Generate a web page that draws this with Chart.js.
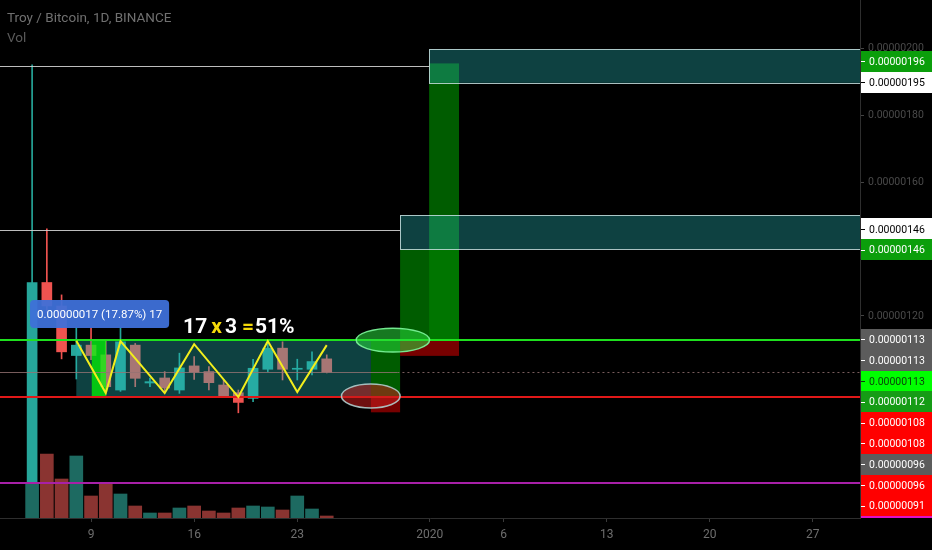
<!DOCTYPE html>
<html lang="en">
<head>
    <meta charset="UTF-8">
    <title>Troy / Bitcoin, 1D, BINANCE</title>
    <script src="https://cdn.jsdelivr.net/npm/chart.js@4.4.0/dist/chart.umd.min.js"></script>
    <style>
        html, body {
            margin: 0;
            padding: 0;
            background: #000;
        }

        .chart-container {
            width: 932px;
            height: 550px;
            position: relative;
        }
    </style>
</head>
<body>
    <div class="chart-container">
        <canvas id="troyChart"></canvas>
    </div>

    <script>
        // prices in satoshi (1e-8 BTC), x = day counted from 1 Dec 2019
        const days    = [5, 6, 7, 8, 9, 10, 11, 12, 13, 14, 15, 16, 17, 18, 19, 20, 21, 22, 23, 24, 25];
        const opens   = [70, 130, 123, 108.2, 111.3, 108.4, 97.9, 111.3, 100, 101.5, 97.9, 105.1, 103.4, 99.4, 97.1, 95.4, 104.1, 110.4, 104.1, 104.1, 107.2];
        const closes  = [130, 123, 109.3, 111.3, 108.2, 98.9, 112.3, 101.4, 100.4, 98.5, 104.5, 103.2, 100.1, 96.1, 94.2, 104.4, 110.4, 104.1, 104.4, 106.4, 103.2];
        const highs   = [195, 146, 126.3, 116.4, 116.4, 112.5, 116.4, 111.8, 101.5, 103.4, 108.9, 107.9, 104.9, 100.9, 97.9, 107.1, 112.6, 112.3, 107.1, 109.3, 108.4];
        const lows    = [70, 121, 107.2, 101.2, 107, 97.9, 97.5, 98.9, 98.9, 97.3, 96.9, 101.1, 97.9, 95.8, 91.1, 94.4, 103.4, 100.9, 100.9, 102.4, 103];
        const volumes = [350, 640, 390, 620, 220, 350, 240, 120, 50, 50, 100, 120, 70, 50, 100, 120, 110, 80, 220, 90, 20];

        const xTickDays   = [9, 16, 23, 32, 37, 44, 51, 58];
        const xTickLabels = ['9', '16', '23', '2020', '6', '13', '20', '27'];

        // yellow zigzag inside the range
        const zigzagDays   = [8, 10, 11, 14, 16, 19, 21, 23, 25];
        const zigzagPrices = [112.6, 97, 112.5, 97, 111.6, 95.8, 112.5, 97.3, 111.3];

        // drawings: [fromDay, toDay, topPrice, bottomPrice]
        const rangeBoxes  = [[8, 28, 112.8, 95.8], [29.98, 61.3, 150.1, 139.9], [31.95, 61.3, 199.7, 189.6]];
        const profitZones = [[29.98, 33.98, 139.9, 112.8], [31.95, 33.98, 195.4, 112.8], [28, 29.98, 112.6, 95.8]];
        const lossZones   = [[29.98, 33.98, 112.8, 108.1], [28, 29.98, 95.8, 91.25]];
        const brightBar   = [9.05, 10.02, 112.6, 95.5];

        // horizontal levels
        const greenLevel   = 112.8;
        const redLevel     = 95.8;
        const priceLevel   = 103.3;
        const magentaLevel = 70.1;
        const whiteRays    = [[194.6, 31.95], [145.7, 29.98]];

        // ellipses: [centerDay, centerPrice, radiusDays, radiusPrice]
        const greenEllipse = [29.49, 112.8, 2.49, 3.58];
        const redEllipse   = [27.99, 96.1, 1.99, 3.58];

        // price labels on the right axis
        const axisLabelValues = [196, 195, 146, 146, 113, 113, 113, 112, 108, 108, 96, 96, 91];
        const axisLabelBg     = ['#0b9e0b', '#ffffff', '#ffffff', '#0b9e0b', '#5c5c5c', '#5c5c5c', '#00ff00', '#159c15', '#ff0000', '#ff0000', '#5c5c5c', '#ff0000', '#ff0000'];
        const axisLabelFg     = ['#fff', '#000', '#000', '#fff', '#fff', '#fff', '#0b3d0b', '#fff', '#fff', '#fff', '#fff', '#fff', '#fff'];

        const UP = '#26a69a';
        const DOWN = '#ef5350';
        const UP_VOL = '#1d6a61';
        const DOWN_VOL = '#8a3431';

        const isUp = days.map((d, i) => closes[i] >= opens[i]);

        function fmt(v) {
            return (v * 1e-8).toFixed(8);
        }

        const drawingsPlugin = {
            id: 'drawings',
            beforeDatasetDraw(chart, args) {
                if (args.index !== 3) return;
                const ctx = chart.ctx;
                const xs = chart.scales.x, ys = chart.scales.y;
                const px = v => xs.getPixelForValue(v);
                const py = v => ys.getPixelForValue(v);
                const area = chart.chartArea;

                ctx.save();
                ctx.beginPath();
                ctx.rect(area.left, area.top, area.right - area.left, area.bottom - area.top);
                ctx.clip();

                // profit / loss zones
                profitZones.forEach(z => {
                    ctx.fillStyle = 'rgba(0, 128, 0, 0.72)';
                    ctx.fillRect(px(z[0]), py(z[2]), px(z[1]) - px(z[0]), py(z[3]) - py(z[2]));
                });
                lossZones.forEach(z => {
                    ctx.fillStyle = 'rgba(165, 0, 0, 0.72)';
                    ctx.fillRect(px(z[0]), py(z[2]), px(z[1]) - px(z[0]), py(z[3]) - py(z[2]));
                });

                // range boxes
                rangeBoxes.forEach((b, i) => {
                    const x0 = px(b[0]), x1 = px(b[1]), y0 = py(b[2]), y1 = py(b[3]);
                    ctx.fillStyle = 'rgba(40, 180, 180, 0.36)';
                    ctx.fillRect(x0, y0, x1 - x0, y1 - y0);
                    if (i > 0) {
                        ctx.strokeStyle = 'rgba(200, 225, 225, 0.85)';
                        ctx.lineWidth = 1;
                        ctx.strokeRect(Math.round(x0) + 0.5, Math.round(y0) + 0.5, x1 - x0, Math.round(y1 - y0));
                    }
                });

                ctx.fillStyle = 'rgba(0, 255, 0, 0.7)';
                ctx.fillRect(px(brightBar[0]), py(brightBar[2]), px(brightBar[1]) - px(brightBar[0]), py(brightBar[3]) - py(brightBar[2]));

                // white rays
                ctx.strokeStyle = 'rgba(210, 210, 210, 0.9)';
                ctx.lineWidth = 1;
                whiteRays.forEach(r => {
                    const y = Math.round(py(r[0])) + 0.5;
                    ctx.beginPath();
                    ctx.moveTo(area.left, y);
                    ctx.lineTo(px(r[1]), y);
                    ctx.stroke();
                });

                // last price line
                const yp = Math.round(py(priceLevel)) + 0.5;
                ctx.strokeStyle = 'rgba(150, 115, 115, 0.8)';
                ctx.beginPath();
                ctx.moveTo(area.left, yp);
                ctx.lineTo(px(29.8), yp);
                ctx.stroke();
                ctx.setLineDash([2, 3]);
                ctx.beginPath();
                ctx.moveTo(px(29.8), yp);
                ctx.lineTo(area.right, yp);
                ctx.stroke();
                ctx.setLineDash([]);

                // levels
                [[greenLevel, '#1ee01e'], [redLevel, '#e01818'], [magentaLevel, '#a820a8']].forEach(l => {
                    ctx.strokeStyle = l[1];
                    ctx.lineWidth = 2;
                    const y = Math.round(py(l[0]));
                    ctx.beginPath();
                    ctx.moveTo(area.left, y);
                    ctx.lineTo(area.right, y);
                    ctx.stroke();
                });

                // ellipses
                [[greenEllipse, 'rgba(40, 220, 60, 0.55)', 'rgba(120, 240, 150, 0.95)'],
                 [redEllipse, 'rgba(200, 30, 30, 0.55)', 'rgba(175, 205, 205, 0.9)']].forEach(e => {
                    const p = e[0];
                    const cx = px(p[0]), cy = py(p[1]);
                    const rx = px(p[0] + p[2]) - cx, ry = py(p[1] - p[3]) - cy;
                    ctx.beginPath();
                    ctx.ellipse(cx, cy, rx, ry, 0, 0, Math.PI * 2);
                    ctx.fillStyle = e[1];
                    ctx.fill();
                    ctx.strokeStyle = e[2];
                    ctx.lineWidth = 1.5;
                    ctx.stroke();
                });

                ctx.restore();
            },
            afterDraw(chart) {
                const ctx = chart.ctx;
                const xs = chart.scales.x, ys = chart.scales.y;
                const px = v => xs.getPixelForValue(v);
                const py = v => ys.getPixelForValue(v);

                ctx.save();
                // header
                ctx.textBaseline = 'middle';
                ctx.textAlign = 'left';
                ctx.font = '13.5px Roboto, sans-serif';
                ctx.fillStyle = '#707070';
                ctx.fillText('Troy / Bitcoin, 1D, BINANCE', 7, 19);
                ctx.fillStyle = '#5a5a5a';
                ctx.fillText('Vol', 7, 39);

                // measure label
                ctx.font = '11.5px Roboto, sans-serif';
                const measText = '0.00000017 (17.87%) 17';
                const mw = ctx.measureText(measText).width + 14;
                const mx = px(9.58), my = py(120.6);
                ctx.fillStyle = 'rgba(62, 112, 216, 0.95)';
                ctx.beginPath();
                ctx.roundRect(mx - mw / 2, my - 14, mw, 28, 4);
                ctx.fill();
                ctx.fillStyle = '#fff';
                ctx.fillText(measText, mx - mw / 2 + 7, my + 1);

                // 17 x 3 = 51%
                ctx.font = 'bold 21px Roboto, sans-serif';
                const parts = [['17', '#fff', 4], ['x', '#f5d90a', 3], ['3', '#fff', 5], ['=', '#f5d90a', 1], ['51%', '#fff', 0]];
                let tx = px(15.25);
                const ty = py(116.5);
                parts.forEach(p => {
                    ctx.fillStyle = p[1];
                    ctx.fillText(p[0], tx, ty);
                    tx += ctx.measureText(p[0]).width + p[2];
                });

                // right axis price labels, stacked like the platform does
                ctx.font = '10.5px Roboto, sans-serif';
                const left = ys.left;
                let prev = -Infinity;
                axisLabelValues.forEach((v, i) => {
                    const y = Math.max(py(v), prev + 20.8);
                    prev = y;
                    ctx.fillStyle = axisLabelBg[i];
                    ctx.fillRect(left + 1, Math.round(y - 10.5), chart.width - left - 1, 21);
                    ctx.strokeStyle = axisLabelFg[i];
                    ctx.lineWidth = 1;
                    ctx.beginPath();
                    ctx.moveTo(left + 1, Math.round(y) + 0.5);
                    ctx.lineTo(left + 5, Math.round(y) + 0.5);
                    ctx.stroke();
                    ctx.fillStyle = axisLabelFg[i];
                    ctx.fillText(fmt(v), left + 9, y + 1);
                    if (i === axisLabelValues.length - 1) {
                        ctx.fillStyle = '#e010c8';
                        ctx.fillRect(left + 1, Math.round(y + 10.5), chart.width - left - 1, 2);
                    }
                });
                ctx.restore();
            }
        };

        const ctx = document.getElementById('troyChart').getContext('2d');

        new Chart(ctx, {
            type: 'bar',
            data: {
                datasets: [
                    {
                        label: 'Vol',
                        yAxisID: 'v',
                        data: days.map((d, i) => ({ x: d, y: volumes[i] })),
                        backgroundColor: isUp.map(u => u ? UP_VOL : DOWN_VOL),
                        barThickness: 13,
                        grouped: false,
                        order: 4
                    },
                    {
                        label: 'wicks',
                        data: days.map((d, i) => ({ x: d, y: [lows[i], highs[i]] })),
                        backgroundColor: isUp.map(u => u ? UP : DOWN),
                        barThickness: 1,
                        grouped: false,
                        order: 3
                    },
                    {
                        label: 'bodies',
                        data: days.map((d, i) => ({ x: d, y: [opens[i], closes[i]] })),
                        backgroundColor: isUp.map(u => u ? UP : DOWN),
                        barThickness: 10,
                        minBarLength: 1,
                        grouped: false,
                        order: 2
                    },
                    {
                        type: 'line',
                        label: 'zigzag',
                        data: zigzagDays.map((d, i) => ({ x: d, y: zigzagPrices[i] })),
                        borderColor: '#f2ee1c',
                        borderWidth: 2,
                        pointRadius: 0,
                        tension: 0,
                        order: 1
                    }
                ]
            },
            options: {
                responsive: true,
                maintainAspectRatio: false,
                animation: false,
                events: [],
                layout: { padding: 0 },
                plugins: {
                    legend: { display: false },
                    tooltip: { enabled: false }
                },
                scales: {
                    x: {
                        type: 'linear',
                        offset: false,
                        min: 2.82,
                        max: 61.2,
                        afterBuildTicks: scale => {
                            scale.ticks = xTickDays.map(v => ({ value: v }));
                        },
                        afterFit: scale => {
                            scale.height = 32;
                            scale.paddingLeft = 0;
                            scale.paddingRight = 0;
                        },
                        grid: { offset: false, drawOnChartArea: false, tickLength: 4, tickColor: '#3a3a3a' },
                        border: { color: '#2e2e2e' },
                        ticks: {
                            color: '#6e6e6e',
                            font: { family: 'Roboto', size: 12 },
                            padding: 6,
                            maxRotation: 0,
                            autoSkip: false,
                            callback: v => xTickLabels[xTickDays.indexOf(v)]
                        }
                    },
                    y: {
                        position: 'right',
                        min: 59.7,
                        max: 214.33,
                        afterBuildTicks: scale => {
                            scale.ticks = scale.ticks.filter(t => t.value > 70);
                        },
                        afterFit: scale => {
                            scale.width = 72;
                            scale.paddingTop = 0;
                            scale.paddingBottom = 0;
                        },
                        grid: { drawOnChartArea: false, tickLength: 4, tickColor: '#444' },
                        border: { color: '#2e2e2e' },
                        ticks: {
                            stepSize: 20,
                            includeBounds: false,
                            color: '#4a4a4a',
                            padding: 4,
                            font: { family: 'Roboto', size: 10.5 },
                            callback: v => fmt(v)
                        }
                    },
                    v: {
                        display: false,
                        min: 0,
                        max: 5180
                    }
                }
            },
            plugins: [drawingsPlugin]
        });
    </script>
</body>
</html>
